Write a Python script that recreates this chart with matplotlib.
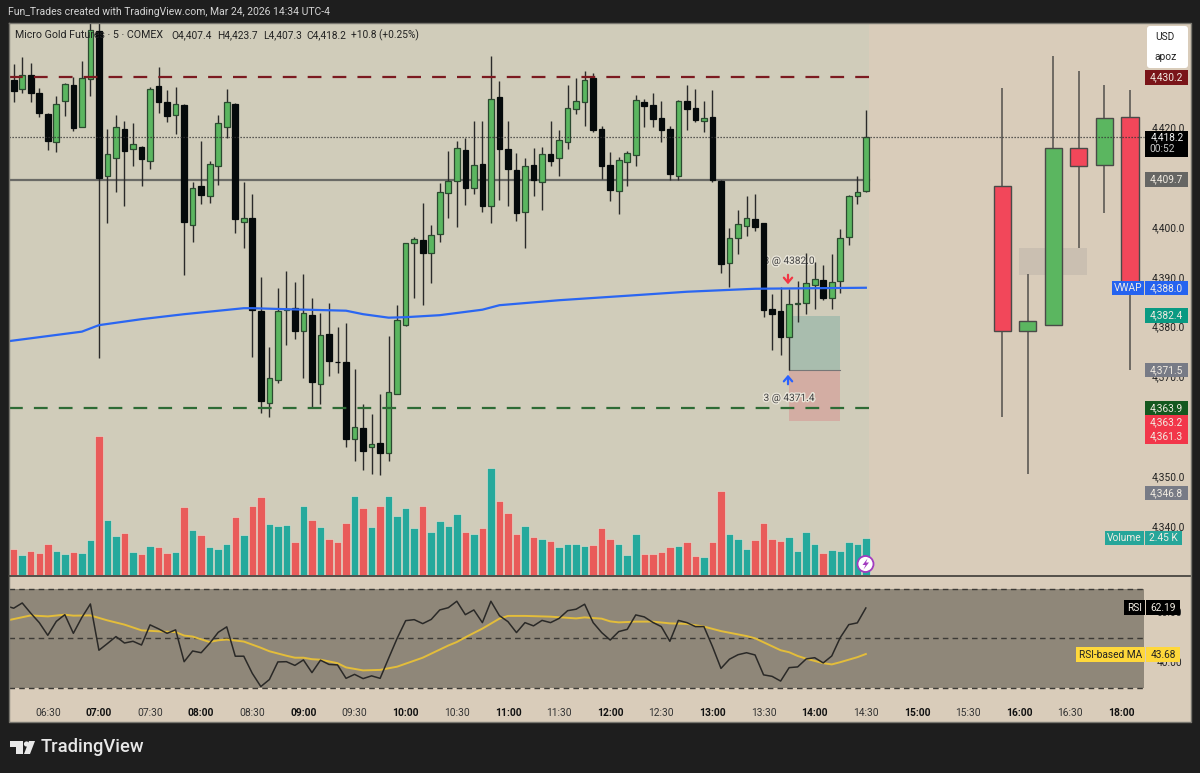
import numpy as np
import matplotlib
matplotlib.use("Agg")
import matplotlib.pyplot as plt
import matplotlib.patheffects as pe
from matplotlib.patches import Rectangle, FancyBboxPatch, Circle, Polygon

plt.rcParams['font.family'] = ['Roboto', 'DejaVu Sans']

#----data, 5 minute bars----
opens = [4429.7,4427.9,4430.6,4427.0,4422.8,4417.2,4425.5,4428.7,4420.2,4429.8,
         4439.5,4410.5,4414.0,4419.8,4415.9,4416.2,4413.5,4428.5,4425.2,4422.6,
         4424.7,4400.6,4408.5,4406.3,4412.5,4420.2,4424.8,4401.1,4401.9,4383.3,
         4364.8,4369.5,4383.5,4383.9,4379.3,4382.6,4368.7,4378.7,4373.2,4373.1,
         4357.7,4359.9,4356.0,4356.9,4354.9,4366.7,4380.5,4396.9,4397.6,4394.9,
         4398.8,4407.1,4409.4,4415.6,4408.1,4412.9,4404.3,4426.3,4415.9,4411.6,
         4403.1,4412.6,4409.3,4414.9,4414.0,4417.2,4423.9,4425.3,4430.1,4419.8,
         4412.7,4407.5,4413.2,4414.7,4425.2,4424.7,4422.0,4419.8,4410.5,4425.4,
         4424.0,4421.5,4422.3,4409.4,4393.0,4398.0,4400.4,4401.7,4400.9,4383.7,
         4383.3,4378.2,4384.7,4384.9,4388.6,4389.6,4385.9,4389.4,4398.2,4406.3,
         4407.4]
highs = [4432.9,4434.3,4433.0,4428.1,4423.0,4426.5,4429.1,4430.3,4433.5,4442.0,
         4442.0,4419.8,4422.6,4421.4,4421.0,4416.4,4428.3,4432.3,4427.7,4428.2,
         4424.8,4409.3,4417.4,4413.5,4422.6,4427.9,4425.0,4409.3,4406.9,4390.1,
         4376.1,4387.9,4391.4,4389.2,4390.8,4386.0,4382.9,4385.0,4380.1,4380.9,
         4371.7,4364.7,4362.7,4366.6,4378.4,4384.5,4397.0,4398.1,4404.9,4400.6,
         4409.1,4415.4,4417.4,4418.0,4421.4,4421.5,4434.5,4429.5,4421.4,4415.0,
         4414.0,4416.1,4416.2,4421.4,4419.6,4428.7,4430.0,4431.5,4431.1,4420.4,
         4415.2,4414.2,4415.4,4426.6,4425.9,4427.1,4425.4,4420.4,4425.6,4428.7,
         4427.8,4425.4,4427.7,4409.6,4399.9,4403.5,4406.4,4406.8,4401.0,4386.8,
         4388.1,4387.7,4389.4,4394.9,4393.1,4392.6,4394.8,4399.7,4406.5,4410.4,
         4423.7]
lows = [4425.3,4427.0,4425.3,4422.2,4415.7,4415.3,4422.4,4419.5,4420.2,4426.4,
        4373.9,4400.9,4407.2,4404.3,4412.4,4408.4,4411.9,4423.0,4421.3,4418.8,
        4390.6,4397.2,4404.8,4404.9,4408.7,4418.0,4398.9,4396.0,4374.1,4362.8,
        4362.0,4369.0,4376.5,4377.7,4370.0,4363.9,4364.6,4370.3,4370.9,4356.1,
        4353.3,4351.5,4350.7,4350.5,4353.3,4366.6,4380.3,4386.0,4384.5,4389.0,
        4397.2,4401.9,4400.2,4404.6,4406.7,4403.2,4400.9,4405.5,4404.3,4401.4,
        4396.0,4406.4,4403.6,4412.4,4410.4,4415.9,4422.8,4420.4,4419.3,4409.9,
        4405.3,4402.8,4408.5,4412.4,4420.2,4420.2,4417.2,4409.6,4409.6,4419.6,
        4421.2,4419.3,4409.2,4391.0,4388.2,4394.8,4398.4,4399.4,4382.2,4375.5,
        4374.6,4371.5,4381.2,4382.7,4383.7,4385.5,4383.7,4387.0,4396.6,4404.7,
        4407.3]
closes = [4427.5,4430.7,4427.0,4423.1,4417.4,4424.8,4428.8,4420.1,4430.1,4439.7,
          4410.1,4414.8,4420.2,4415.4,4416.8,4413.8,4427.9,4425.3,4422.4,4424.8,
          4401.2,4408.1,4406.5,4412.9,4421.0,4425.2,4401.8,4401.9,4383.5,4365.3,
          4369.9,4383.3,4383.7,4379.4,4382.9,4369.2,4378.5,4373.4,4373.1,4357.7,
          4360.1,4355.2,4356.7,4354.9,4367.0,4381.5,4396.9,4397.8,4394.9,4398.6,
          4407.3,4409.5,4416.1,4408.1,4412.7,4404.3,4425.9,4415.8,4411.9,4403.0,
          4412.5,4409.6,4414.9,4413.5,4417.6,4424.0,4425.4,4429.6,4419.6,4412.4,
          4407.7,4413.6,4415.1,4425.6,4424.4,4421.9,4419.6,4410.9,4425.4,4423.9,
          4421.7,4422.0,4409.6,4392.7,4398.0,4400.7,4401.9,4400.2,4383.5,4382.7,
          4378.2,4384.8,4384.9,4388.9,4389.7,4385.9,4389.2,4398.0,4406.3,4407.3,
          4418.2]
volumes = [1686,1336,1555,1445,2059,1555,1380,1511,1445,2278,
           9089,3614,2562,2738,1511,1380,1905,1840,1445,1511,
           4446,2957,2606,1840,1730,2015,3833,2606,4555,5103,
           3329,3219,3285,2168,4555,3614,3154,2343,2168,3395,
           5168,4380,3154,4555,5212,3876,4380,3110,4555,2825,
           3548,3219,3986,2825,2716,3066,6986,4840,4052,2716,
           3219,2497,2343,2234,1840,2015,2059,1905,1949,3110,
           2343,2015,1336,2672,1380,1380,1511,1840,1905,2168,
           1226,1183,2168,5497,2672,2343,1730,2278,3395,2343,
           2234,2497,1555,2825,2059,1445,1621,1555,2168,2015,
           2450]

# one earlier bar than the candles, the line runs off the left edge
rsi = [63.1,62.1,64.2,60.1,56.3,51.2,56.8,59.5,52.0,58.4,63.8,
       45.2,47.9,50.7,48.1,48.8,47.3,55.4,53.8,52.0,53.4,
       40.6,44.9,44.2,48.0,52.4,54.6,42.8,42.8,35.9,30.6,
       33.4,40.5,40.6,39.1,41.3,36.2,41.2,39.5,39.3,33.9,
       35.5,33.8,34.9,33.9,42.0,50.0,57.1,57.5,55.9,57.6,
       61.4,62.3,64.9,59.5,61.4,56.3,64.9,59.1,56.7,52.3,
       56.3,55.0,57.2,56.3,58.0,61.1,61.7,63.7,56.3,52.3,
       49.3,52.7,53.6,59.4,58.6,56.4,54.7,48.8,57.2,56.3,
       54.7,54.7,46.7,37.9,41.6,43.4,44.2,43.3,35.3,34.7,
       32.8,38.2,38.5,41.7,42.2,40.1,42.9,50.3,55.5,56.2,
       62.19]
rsi_ma_bars = [-1,2,4,6,7,9,11,13,15,17,19,20,21,23,24,25,27,29,30,32,33,34,35,36,38,39,41,43,45,48,51,
               52,53,55,57,58,60,63,66,67,69,70,71,73,75,77,79,81,83,86,87,90,91,92,93,95,96,97,99,100]
rsi_ma = [57.0,59.2,58.8,59.5,59.1,59.2,57.2,55.5,53.2,52.8,52.5,51.1,50.7,48.5,49.2,49.5,48.7,46.2,44.8,43.0,42.2,42.2,
          41.6,41.4,40.0,38.3,37.1,37.3,38.6,42.2,47.1,
          48.5,50.4,53.9,57.9,59.0,59.0,58.7,58.0,58.4,57.9,56.8,56.4,56.7,56.7,56.0,55.8,54.7,52.9,50.9,50.0,
          45.2,44.4,42.9,41.8,40.0,39.5,40.4,42.4,43.68]
vwap_bars = [-1,8,10,15,20,27,28,32,39,41,44,46,50,55,57,64,72,79,87,100]
vwap = [4377.2,4379.2,4380.5,4381.7,4382.7,4383.9,4383.9,4383.7,4383.4,4382.7,4382.0,4382.1,4382.5,4383.6,4384.5,
        4385.5,4386.4,4387.2,4387.8,4388.0]

# higher timeframe candles on the right
htf_bars = [116,119,122,125,128,131]
htf_open = [4408.5,4379.4,4380.6,4416.0,4412.7,4422.3]
htf_high = [4428.1,4390.8,4434.5,4431.5,4428.7,4427.7]
htf_low = [4362.1,4350.7,4380.3,4396.0,4402.9,4371.5]
htf_close = [4379.4,4381.4,4416.0,4412.5,4422.0,4388.5]

price_ticks = [4420,4400,4390,4380,4370,4350,4340]
rsi_ticks = [60,40]
time_bars = list(range(4,131,6))
time_labels = ['06:30','07:00','07:30','08:00','08:30','09:00','09:30','10:00','10:30','11:00','11:30',
               '12:00','12:30','13:00','13:30','14:00','14:30','15:00','15:30','16:00','16:30','18:00']

res_level = 4430.2
sup_level = 4363.9
mid_level = 4409.7
last_price = 4418.2
entry_price = 4371.5
target_price = 4382.4
stop_price = 4361.3
gap_low, gap_high = 4390.6, 4396.0

#----colours----
DARK = '#1e1e1e'
PANE = '#d9ccba'
ZONE = '#d0ccba'
UP = '#5bb660'
DOWN = '#050a0b'
V_UP = '#25a99c'
V_DOWN = '#e95b5a'
WIDTH, HEIGHT = 1200, 773
TAG_SIZE = 7.3


def px_rect(x0, y0, x1, y1):
    return [x0/WIDTH, 1-y1/HEIGHT, (x1-x0)/WIDTH, (y1-y0)/HEIGHT]


fig = plt.figure(figsize=(12, 7.73), dpi=100, facecolor=DARK)
fig.add_artist(Rectangle((9/WIDTH, 1-722/HEIGHT), 1181.5/WIDTH, 699/HEIGHT, transform=fig.transFigure,
                         facecolor=PANE, lw=0, zorder=-1))

xlim = (-0.552, 138.1)
bars = np.arange(len(opens))
opens, closes = np.array(opens), np.array(closes)
highs, lows = np.array(highs), np.array(lows)
is_up = closes >= opens

#----volume underneath everything----
ax_vol = fig.add_axes(px_rect(9, 23, 1190.5, 575))
ax_vol.set_xlim(*xlim)
ax_vol.set_ylim(0, 36200)
ax_vol.axvspan(xlim[0], 100.4, color=ZONE, lw=0)
ax_vol.bar(bars, volumes, width=0.88, color=[V_UP if u else V_DOWN for u in is_up],
           edgecolor='#e8e2d4', linewidth=0.4, zorder=2)
ax_vol.set_axis_off()

#----price pane----
ax = fig.add_axes(px_rect(9, 23, 1190.5, 575))
ax.patch.set_visible(False)
ax.set_xlim(*xlim)
ax.set_ylim(4330.4, 4441.09)
ax.set_axis_off()

# long position box
ax.add_patch(Rectangle((91, entry_price), 6, target_price-entry_price, facecolor='#a9bdae', lw=0, zorder=1))
ax.add_patch(Rectangle((91, stop_price), 6, entry_price-stop_price, facecolor='#d3ada3', lw=0, zorder=1))
ax.plot([91, 97], [entry_price, entry_price], color='#777', lw=0.8, zorder=1)
ax.add_patch(Rectangle((118, gap_low), 8, gap_high-gap_low, facecolor='#cabfb1', lw=0, zorder=1))

halo = [pe.withStroke(linewidth=2, foreground='#e8e4d8')]
ax.text(91, 4393.4, '3 @ 4382.0', ha='center', va='center', fontsize=TAG_SIZE, color='#444', path_effects=halo, zorder=1.5)
ax.text(91, 4365.9, '3 @ 4371.4', ha='center', va='center', fontsize=TAG_SIZE, color='#444', path_effects=halo, zorder=1.5)

ax.plot([xlim[0], 100.4], [mid_level]*2, color='#6a6a66', lw=1.6, zorder=2)
ax.vlines(bars, lows, highs, color='#2a2a2a', lw=1.0, zorder=3)
ax.bar(bars, closes-opens, bottom=opens, width=0.66, color=[UP if u else DOWN for u in is_up],
       edgecolor=['#2b4a30' if u else DOWN for u in is_up], linewidth=0.9, zorder=4)

htf_open, htf_close = np.array(htf_open), np.array(htf_close)
ax.vlines(htf_bars, htf_low, htf_high, color='#66625c', lw=1.3, zorder=3)
ax.bar(htf_bars, htf_close-htf_open, bottom=htf_open, width=2.0,
       color=[UP if c > o else '#f2475a' for o, c in zip(htf_open, htf_close)],
       edgecolor='#4a4a48', linewidth=1.0, zorder=4)

ax.plot([xlim[0], 100.4], [res_level]*2, color='#7c1a20', lw=1.6, dashes=(6.2, 5), zorder=5)
ax.plot([xlim[0], 100.4], [sup_level]*2, color='#2d6b35', lw=1.6, dashes=(6.2, 5), zorder=5)
ax.plot([xlim[0], 132.7], [last_price]*2, color='#333', lw=0.9, dashes=(1, 1.4), zorder=5)
ax.plot(vwap_bars, vwap, color='#2a66f2', lw=1.6, zorder=6)

for p in price_ticks:
    ax.text((1168-13.7)/8.52, p, '{:,.1f}'.format(p), ha='center', va='center', fontsize=TAG_SIZE, color='#222', zorder=2)

#----rsi pane----
ax_rsi = fig.add_axes(px_rect(9, 576, 1190.5, 695))
ax_rsi.patch.set_visible(False)
ax_rsi.set_xlim(*xlim)
ax_rsi.set_ylim(50-(695-638.3)/2.4875, 50+(638.3-576)/2.4875)
ax_rsi.fill_between([xlim[0], 132.7], 30, 70, color='#8f8779', lw=0)
for lev in (70, 50, 30):
    ax_rsi.plot([xlim[0], 132.7], [lev, lev], color='#3c3a36', lw=1, dashes=(4, 3))
ax_rsi.plot(rsi_ma_bars, rsi_ma, color='#e3bd3a', lw=1.4)
ax_rsi.plot(np.arange(-1, len(rsi)-1), rsi, color='#2a2927', lw=1.1)
for p in rsi_ticks:
    ax_rsi.text((1169-13.7)/8.52, p, '{:.2f}'.format(p), ha='center', va='center', fontsize=TAG_SIZE, color='#222')
for side in ax_rsi.spines.values():
    side.set_visible(False)
ax_rsi.set_yticks([])
ax_rsi.set_xticks(time_bars)
ax_rsi.set_xticklabels(time_labels, fontsize=7.4, color='#333')
ax_rsi.tick_params(axis='x', length=0, pad=9)
for lab in ax_rsi.get_xticklabels():
    if lab.get_text().endswith(':00'):
        lab.set_fontweight('bold')
        lab.set_color('#111')

#----chrome and tags, drawn in pixels----
ui = fig.add_axes([0, 0, 1, 1])
ui.patch.set_visible(False)
ui.set_xlim(0, WIDTH)
ui.set_ylim(HEIGHT, 0)
ui.set_axis_off()

ui.plot([8.5, 1190.5, 1190.5, 8.5, 8.5], [23, 23, 722, 722, 23], color='#78766f', lw=1.0)
ui.plot([9, 1190], [575.5, 575.5], color='#3c3a36', lw=1.2)


def price_y(price):
    return HEIGHT - ax.transData.transform((0, price))[1]


def tag(x0, x1, yc, txt, bg, fg='#f2ece2', h=14.5, size=TAG_SIZE):
    ui.add_patch(Rectangle((x0, yc-h/2), x1-x0, h, facecolor=bg, lw=0, zorder=5))
    ui.text((x0+x1)/2, yc, txt, ha='center', va='center', fontsize=size, color=fg, zorder=6)


ui.add_patch(FancyBboxPatch((1149, 28), 37, 38, boxstyle='round,pad=2,rounding_size=3',
                            facecolor='white', edgecolor='none', zorder=5))
ui.text(1165, 37, 'USD', ha='center', va='center', fontsize=TAG_SIZE, color='#222', zorder=6)
ui.text(1166, 57, 'apoz', ha='center', va='center', fontsize=TAG_SIZE, color='#222', zorder=6)

tag(1145, 1188, price_y(res_level), '4,430.2', '#7a1519')
ui.add_patch(Rectangle((1145, 131), 43, 26, facecolor='#000000', lw=0, zorder=5))
ui.text(1167, 137.5, '4,418.2', ha='center', va='center', fontsize=TAG_SIZE, color='#f2f2f2', zorder=6)
ui.text(1162, 149, '00:52', ha='center', va='center', fontsize=TAG_SIZE, color='#c8c8c8', zorder=6)
tag(1145, 1188, price_y(mid_level), '4,409.7', '#666664')
tag(1112, 1144, price_y(4388.0), 'VWAP', '#2563f0')
tag(1145, 1188, price_y(4388.0), '4,388.0', '#2563f0')
tag(1145, 1188, price_y(target_price), '4,382.4', '#0a9a82')
tag(1145, 1188, price_y(entry_price), '4,371.5', '#787b86')
tag(1145, 1188, price_y(sup_level), '4,363.9', '#14581f')
# these two are stacked by the scale under the level above, not at their price
tag(1145, 1188, 422.3, '4,363.2', '#f2364a')
tag(1145, 1188, 436.3, '4,361.3', '#f2364a')
tag(1145, 1188, price_y(4346.8), '4,346.8', '#787b86')
tag(1105, 1144, 538, 'Volume', '#26a69a')
tag(1145, 1182, 538, '2.45 K', '#26a69a')
tag(1124, 1145, 607.7, 'RSI', '#000000')
tag(1146, 1180, 607.7, '62.19', '#000000')
tag(1076, 1145, 654.7, 'RSI-based MA', '#ffd83b', fg='#222')
tag(1146, 1180, 654.7, '43.68', '#ffd83b', fg='#222')

ui.annotate('', xy=(788, 287), xytext=(788, 272), zorder=4,
            arrowprops=dict(arrowstyle='->,head_width=0.3,head_length=0.35', color='#f23645', lw=1.6))
ui.annotate('', xy=(788, 372), xytext=(788, 387), zorder=4,
            arrowprops=dict(arrowstyle='->,head_width=0.3,head_length=0.35', color='#2962ff', lw=1.6))

ui.add_patch(Circle((865.5, 564), 8, facecolor='white', edgecolor='#a23bc0', lw=1.3, zorder=5))
ui.add_patch(Polygon([(867.5, 558.5), (862.5, 565), (865.5, 565), (863.5, 569.5), (869, 562.5), (866, 562.5)],
                     closed=True, facecolor='#a23bc0', lw=0, zorder=6))

ui.text(8, 12, 'Fun_Trades created with TradingView.com, Mar 24, 2026 14:34 UTC-4', ha='left', va='center',
        fontsize=7.5, color='#d4d4d4')
ui.text(15, 35, 'Micro Gold Futures \u00b7 5 \u00b7 COMEX', ha='left', va='center', fontsize=7.7, color='#222', zorder=6)
for x, txt in zip([171, 217, 263, 306, 351],
                  ['O4,407.4', 'H4,423.7', 'L4,407.3', 'C4,418.2', '+10.8 (+0.25%)']):
    ui.text(x, 35, txt, ha='left', va='center', fontsize=7.3, color='#222', zorder=6)

# TradingView mark
ui.add_patch(Polygon([(10, 741), (23, 741), (23, 754), (16, 754), (16, 747), (10, 747)],
                     closed=True, facecolor='#e8e8e8', lw=0))
ui.add_patch(Circle((26.5, 744), 2.6, facecolor='#e8e8e8', lw=0))
ui.add_patch(Polygon([(29, 741), (35, 741), (30, 754), (24, 754)], closed=True, facecolor='#e8e8e8', lw=0))
ui.text(41, 747.5, 'TradingView', ha='left', va='center', fontsize=13.2, color='#e8e8e8', fontweight='medium')

fig.savefig('out.png', dpi=100, facecolor=DARK)
